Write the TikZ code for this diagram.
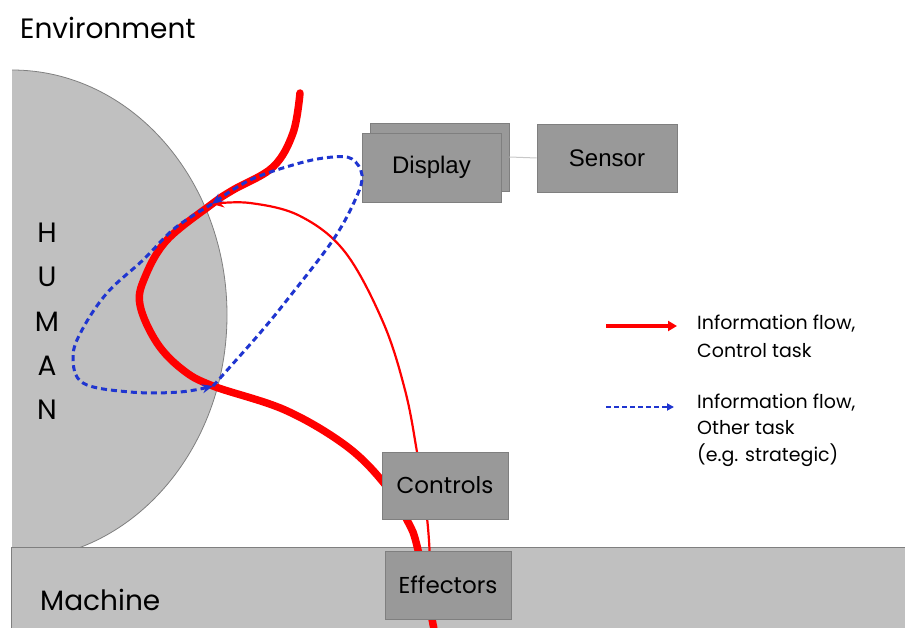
\documentclass[tikz,border=0pt]{standalone}
\usepackage{fontspec}
\setmainfont{Poppins}
\newfontfamily\arialf{Liberation Sans}
\usetikzlibrary{arrows.meta}
\definecolor{humangray}{HTML}{C0C0C0}
\definecolor{boxgray}{HTML}{999999}
\definecolor{edgegray}{HTML}{7F7F7F}
\definecolor{linkgray}{HTML}{C8C8C8}
\definecolor{flowred}{HTML}{FF0000}
\definecolor{flowblue}{HTML}{1F35D0}
\begin{document}
\begin{tikzpicture}[x=1pt,y=-1pt,
  graybox/.style={draw=edgegray, fill=boxgray, line width=0.8pt, inner sep=0pt},
  thickflow/.style={draw=flowred, line width=7.5pt, line cap=round},
  thinflow/.style={draw=flowred, line width=2.2pt},
  otherflow/.style={draw=flowblue, line width=3pt, dash pattern=on 6pt off 4pt},
  bigtxt/.style={font=\fontsize{28}{32}\selectfont, inner sep=0pt},
  boxtxt/.style={font=\fontsize{23}{27}\selectfont},
  sensortxt/.style={font=\arialf\fontsize{24}{28}\selectfont},
  lbl/.style={font=\fontsize{19}{24}\selectfont, anchor=base west, inner sep=0pt},
  redtip/.style={-{Stealth[length=12pt,width=10pt]}},
  bluetip/.style={-{Stealth[length=11pt,width=9pt]}}]
\useasboundingbox (0,0) rectangle (905,628);

% Human
\begin{scope}
  \clip (12,0) rectangle (905,547);
  \path[fill=humangray, draw=edgegray, line width=0.8pt] (12,315) ellipse [x radius=215, y radius=245];
\end{scope}
% Machine bar
\path[fill=humangray, draw=edgegray, line width=0.8pt] (11,547) rectangle (915,640);

% texts
\node[bigtxt, anchor=base west] (env) at (20,39) {Environment};
\node[bigtxt, anchor=base west] (mach) at (40,610) {Machine};
\node[bigtxt] (h1) at (47,233) {H};
\node[bigtxt] (h2) at (47,277) {U};
\node[bigtxt] (h3) at (47,322) {M};
\node[bigtxt] (h4) at (47,366) {A};
\node[bigtxt] (h5) at (47,410) {N};

% flows
\coordinate (top) at (300,93);
\coordinate (upj) at (212,204);
\coordinate (lowj) at (213,386);
\coordinate (bot) at (436,640);
\coordinate (thinstart) at (430,560);

\draw[thickflow] plot[smooth, tension=0.6] coordinates {(top) (293,133) (273,167) (233,190) (upj) (167,240) (145,277) (140,305) (157,343) (183,370) (lowj) (285,410) (345,445) (383,482) (407,520) (418,550) (bot)};

\draw[thinflow, redtip] plot[smooth, tension=0.6] coordinates {(thinstart) (427,518) (417,452) (405,390) (383,322) (345,252) (300,216) (250,203) (upj)};

% boxes
\node[graybox, minimum width=139pt, minimum height=68pt] (dispback) at (439.5,157) {};
\node[graybox, minimum width=139pt, minimum height=69pt, sensortxt] (display) at (431.5,167.5) {Display};
\node[graybox, minimum width=140pt, minimum height=68pt, sensortxt] (sensor) at (607,158) {Sensor};
\draw[linkgray, line width=1pt] (dispback.east) -- (sensor.west);
\node[graybox, minimum width=126pt, minimum height=67pt, boxtxt] (controls) at (445,485.5) {Controls};
\node[graybox, minimum width=126pt, minimum height=68pt, boxtxt] (effectors) at (448,585) {Effectors};

% other-task loop
\draw[otherflow, bluetip] plot[smooth, tension=0.6] coordinates {(lowj) (230,367) (260,333) (287,300) (333,240) (356,198) (362,175) (352,159) (333,157) (300,163) (250,180) (upj)};
\draw[otherflow, bluetip] plot[smooth, tension=0.6] coordinates {(upj) (175,228) (143,260) (107,293) (82,330) (73,357) (83,383) (130,392) (180,392) (lowj)};

% legend
\coordinate (l1a) at (606,326);
\coordinate (l1b) at (677,326);
\coordinate (l2a) at (606,407);
\coordinate (l2b) at (674,407);
\draw[draw=flowred, line width=4.5pt, -{Triangle[length=9pt,width=10pt]}] (l1a) -- (l1b);
\draw[draw=flowblue, line width=1.8pt, dash pattern=on 5pt off 3pt, -{Triangle[length=7pt,width=7pt]}] (l2a) -- (l2b);
\node[lbl] (t1) at (697,330) {Information flow,};
\node[lbl] (t2) at (697,357) {Control task};
\node[lbl] (t3) at (697,408) {Information flow,};
\node[lbl] (t4) at (697,434) {Other task};
\node[lbl] (t5) at (697,461) {(e.g. strategic)};
\end{tikzpicture}
\end{document}
